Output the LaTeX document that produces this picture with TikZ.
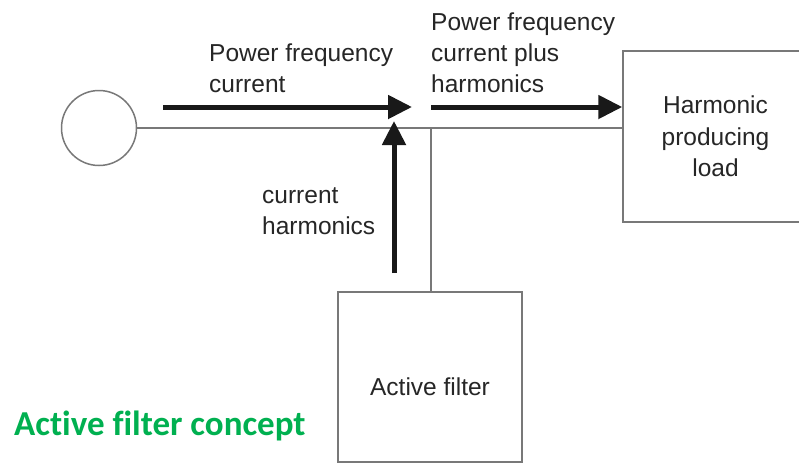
\documentclass[tikz,border=0pt]{standalone}
\usepackage{fontspec}
\setmainfont{Liberation Sans}
\newfontfamily\calibri[Ligatures=CommonOff]{Carlito}
\usetikzlibrary{arrows.meta,positioning,calc}
\definecolor{wiregray}{RGB}{120,120,120}
\definecolor{titlegreen}{RGB}{0,176,80}

\begin{document}
\begin{tikzpicture}[
    x=1pt, y=-1pt,
    wire/.style={draw=wiregray, line width=1.5pt},
    box/.style={rectangle, draw=wiregray, line width=1.5pt, minimum width=184pt, minimum height=170pt, align=center, font=\fontsize{24.5}{31.5}\selectfont, text=black!85},
    flow/.style={-{Triangle[length=24pt,width=23pt]}, line width=5pt, color=black!90},
    note/.style={align=left, inner sep=0pt, anchor=north west, font=\fontsize{24.5}{31}\selectfont, text=black!85}
]
\clip (0,0) rectangle (799,464);
\fill[white] (0,0) rectangle (799,464);

% Source, load and filter
\node[circle, wire, minimum size=75pt, inner sep=0pt] (src) at (99,128) {};
\node[box, minimum width=185pt, minimum height=171pt] (load) at (715.5,136.5) {Harmonic\\producing\\load};
\node[box] (filter) at (430,377) {};
\node[font=\fontsize{24.5}{31}\selectfont, text=black!85] (filtertxt) at ($(filter.center)+(0,10)$) {Active filter};

% Wires
\coordinate (junc) at (431,128);
\draw[wire] (src.east) -- (src.east -| load.west);
\draw[wire] (junc) -- (junc |- filter.north);

% Current arrows
\coordinate (pfs) at (163,107);
\coordinate (pfe) at (412,107);
\coordinate (hls) at (431,107);
\coordinate (hle) at (load.west |- hls);
\coordinate (chs) at (394,273);
\coordinate (che) at (394,121);
\draw[flow] (pfs) -- (pfe);
\draw[flow] (hls) -- (hle);
\draw[flow] (chs) -- (che);

% Labels
\node[note] (pfc) at (209,44) {Power frequency\\current};
\node[note] (pfch) at (431,13) {Power frequency\\current plus\\harmonics};
\node[note] (ch) at (262,187) {current\\harmonics};
\node[anchor=base west, inner sep=0pt, font=\calibri\bfseries\fontsize{35}{40}\selectfont, text=titlegreen] (title) at (14,435) {Active filter concept};

\end{tikzpicture}
\end{document}
